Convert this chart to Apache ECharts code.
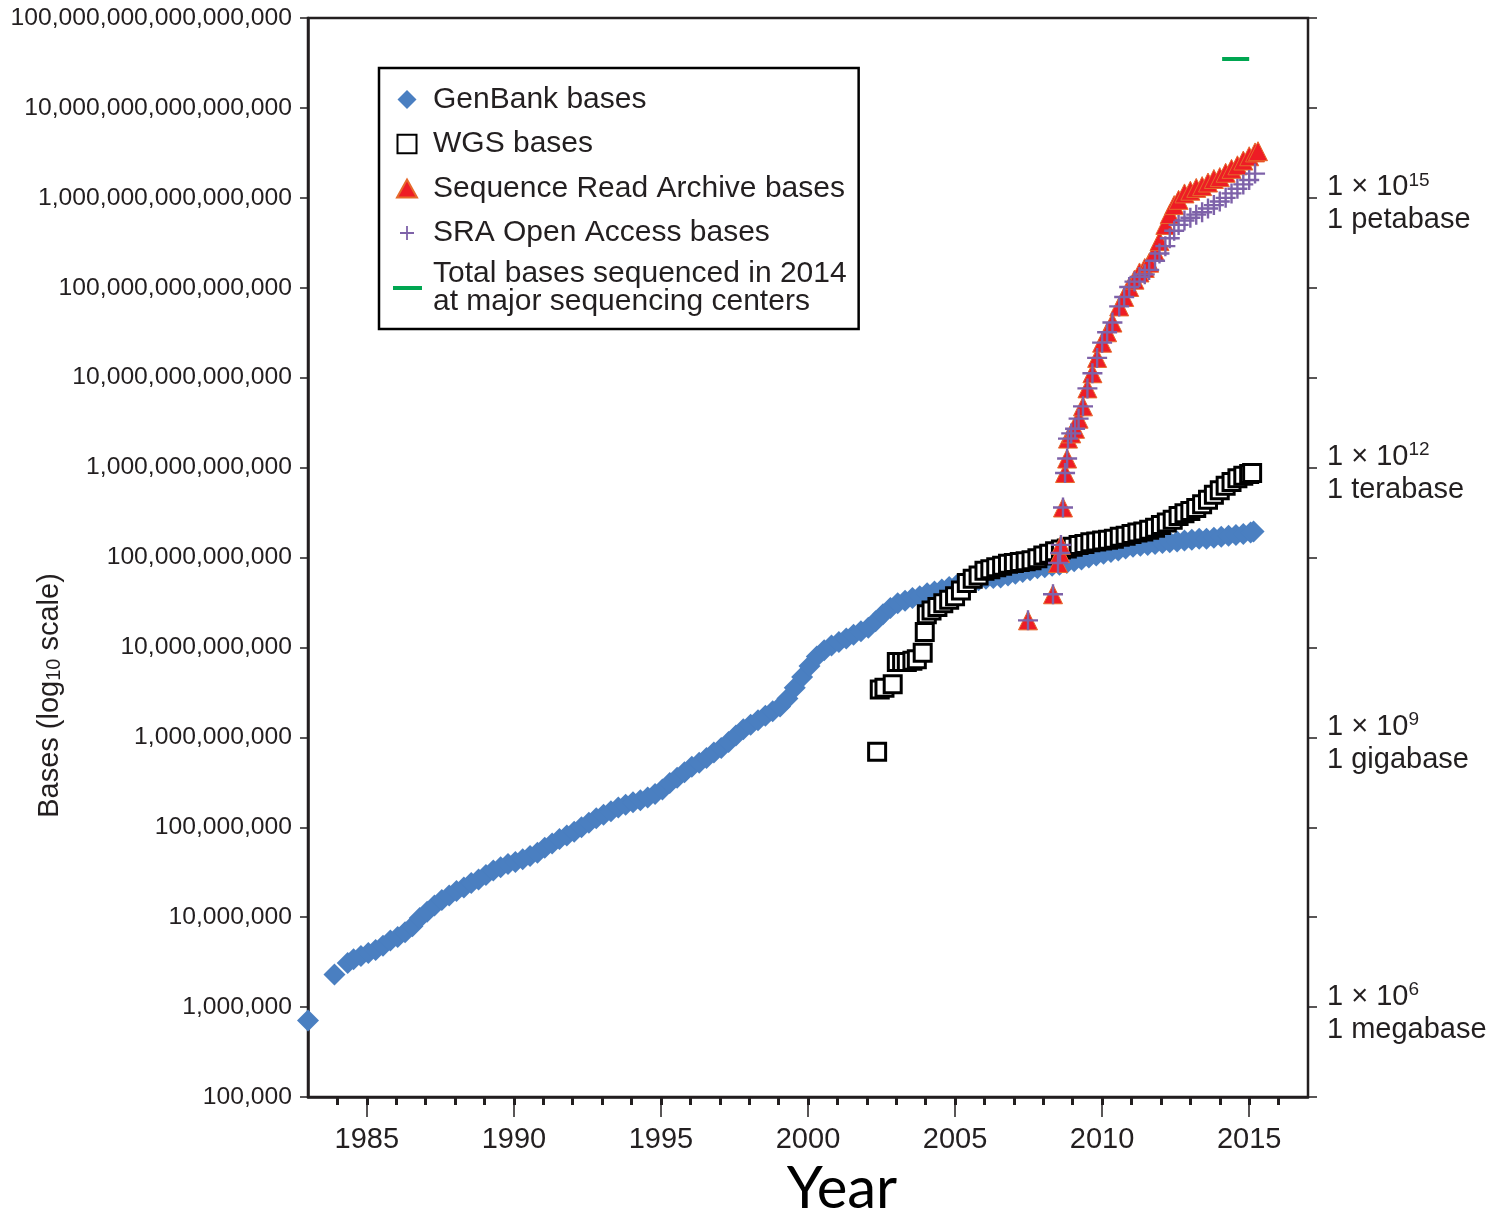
<!DOCTYPE html>
<html><head><meta charset="utf-8">
<script src="https://cdn.jsdelivr.net/npm/echarts@6.0.0/dist/echarts.min.js"></script>
<style>html,body{margin:0;padding:0;background:#fff}#c{width:1506px;height:1212px}</style>
</head><body><div id="c"></div>
<script>
// ---- data (year, bases) ----
const genbank = [
[1983.0,7.1e5],[1983.9,2.3e6],[1984.35,3.1e6],[1984.55,3.4e6],[1984.8,3.7e6],[1985.05,4.0e6],[1985.3,4.3e6],
[1985.55,4.8e6],[1985.8,5.5e6],[1986.05,6.0e6],[1986.3,6.8e6],[1986.55,7.9e6],[1986.8,9.8e6],[1987.05,1.15e7],
[1987.3,1.35e7],[1987.55,1.55e7],[1987.8,1.74e7],[1988.05,1.95e7],[1988.3,2.14e7],[1988.55,2.4e7],[1988.8,2.63e7],
[1989.05,2.95e7],[1989.3,3.3e7],[1989.55,3.6e7],[1989.8,3.9e7],[1990.05,4.1e7],[1990.3,4.4e7],[1990.55,4.8e7],
[1990.8,5.2e7],[1991.05,5.9e7],[1991.3,6.6e7],[1991.55,7.4e7],[1991.8,8.1e7],[1992.05,8.9e7],[1992.3,1.0e8],
[1992.55,1.12e8],[1992.8,1.26e8],[1993.05,1.38e8],[1993.3,1.51e8],[1993.55,1.66e8],[1993.8,1.78e8],[1994.05,1.9e8],
[1994.3,2.0e8],[1994.55,2.14e8],[1994.8,2.34e8],[1995.05,2.63e8],[1995.3,3.1e8],[1995.55,3.55e8],[1995.8,4.1e8],
[1996.05,4.7e8],[1996.3,5.2e8],[1996.55,5.9e8],[1996.8,6.8e8],[1997.05,7.6e8],[1997.3,8.9e8],[1997.55,1.05e9],
[1997.8,1.23e9],[1998.05,1.38e9],[1998.3,1.55e9],[1998.55,1.74e9],[1998.8,1.95e9],[1999.05,2.2e9],[1999.3,2.7e9],
[1999.55,3.55e9],[1999.8,4.7e9],[2000.05,6.2e9],[2000.3,7.9e9],[2000.55,9.3e9],[2000.8,1.05e10],[2001.05,1.15e10],
[2001.3,1.26e10],[2001.55,1.38e10],[2001.8,1.51e10],[2002.05,1.66e10],[2002.3,1.95e10],[2002.55,2.34e10],[2002.8,2.75e10],
[2003.05,3.1e10],[2003.3,3.3e10],[2003.55,3.55e10],[2003.8,3.7e10],[2004.05,4.0e10],[2004.3,4.2e10],[2004.55,4.4e10],
[2004.8,4.7e10],[2005.05,4.9e10],[2005.3,5.1e10],[2005.55,5.4e10],[2005.8,5.6e10],[2006.05,5.8e10],[2006.3,5.9e10],
[2006.55,6.0e10],[2006.8,6.3e10],[2007.05,6.6e10],[2007.3,6.9e10],[2007.55,7.2e10],[2007.8,7.6e10],[2008.05,7.8e10],
[2008.3,8.1e10],[2008.55,8.3e10],[2008.8,8.7e10],[2009.05,9.1e10],[2009.3,9.5e10],[2009.55,1.0e11],[2009.8,1.05e11],
[2010.05,1.1e11],[2010.3,1.15e11],[2010.55,1.2e11],[2010.8,1.26e11],[2011.05,1.32e11],[2011.3,1.35e11],[2011.55,1.38e11],
[2011.8,1.41e11],[2012.05,1.45e11],[2012.3,1.48e11],[2012.55,1.51e11],[2012.8,1.55e11],[2013.05,1.58e11],[2013.3,1.62e11],
[2013.55,1.62e11],[2013.8,1.66e11],[2014.05,1.7e11],[2014.3,1.74e11],[2014.55,1.78e11],[2014.8,1.82e11],[2015.05,1.9e11],
[2015.15,1.95e11]
];
const wgs = [
[2002.35,6.9e8],[2002.44,3.4e9],[2002.6,3.55e9],[2002.88,3.9e9],[2003.02,6.9e9],[2003.2,6.9e9],[2003.36,6.9e9],
[2003.55,7.1e9],[2003.7,7.4e9],[2003.9,8.7e9],[2003.97,1.48e10],[2004.04,2.34e10],[2004.2,2.57e10],[2004.4,2.82e10],
[2004.6,3.1e10],[2004.8,3.4e10],[2005.0,3.7e10],[2005.2,4.3e10],[2005.4,5.2e10],[2005.6,5.8e10],[2005.8,6.3e10],
[2006.0,7.1e10],[2006.2,7.4e10],[2006.4,7.8e10],[2006.6,8.1e10],[2006.8,8.5e10],[2007.0,8.7e10],[2007.2,8.9e10],
[2007.4,9.1e10],[2007.6,9.3e10],[2007.8,9.8e10],[2008.0,1.05e11],[2008.2,1.1e11],[2008.4,1.17e11],[2008.6,1.23e11],
[2008.8,1.26e11],[2009.0,1.32e11],[2009.2,1.38e11],[2009.4,1.41e11],[2009.6,1.48e11],[2009.8,1.51e11],[2010.0,1.55e11],
[2010.2,1.58e11],[2010.4,1.62e11],[2010.6,1.7e11],[2010.8,1.74e11],[2011.0,1.82e11],[2011.2,1.9e11],[2011.4,1.95e11],
[2011.6,2.04e11],[2011.8,2.14e11],[2012.0,2.3e11],[2012.2,2.45e11],[2012.4,2.63e11],[2012.6,2.9e11],[2012.8,3.1e11],
[2013.0,3.3e11],[2013.2,3.55e11],[2013.4,3.9e11],[2013.6,4.4e11],[2013.8,5.0e11],[2014.0,5.6e11],[2014.2,6.3e11],
[2014.4,6.9e11],[2014.6,7.6e11],[2014.8,8.1e11],[2015.0,8.5e11],[2015.1,8.7e11]
];
const sra = [
[2007.48,2.0e10],[2008.33,3.9e10],[2008.5,8.7e10],[2008.57,1.12e11],[2008.6,1.38e11],[2008.67,3.6e11],[2008.74,8.7e11],
[2008.81,1.26e12],[2008.84,2.1e12],[2008.95,2.4e12],[2009.08,2.7e12],[2009.2,3.5e12],[2009.35,4.8e12],[2009.5,7.6e12],
[2009.67,1.12e13],[2009.83,1.66e13],[2010.0,2.45e13],[2010.17,3.2e13],[2010.35,4.1e13],[2010.58,6.2e13],[2010.75,7.9e13],
[2010.92,1.02e14],[2011.1,1.23e14],[2011.27,1.48e14],[2011.45,1.66e14],[2011.6,1.9e14],[2011.8,2.5e14],[2011.95,3.3e14],
[2012.15,5.0e14],[2012.3,6.6e14],[2012.45,8.3e14],[2012.6,9.5e14],[2012.8,1.12e15],[2013.0,1.2e15],[2013.2,1.29e15],
[2013.4,1.35e15],[2013.6,1.48e15],[2013.8,1.62e15],[2014.0,1.7e15],[2014.2,1.9e15],[2014.4,2.1e15],[2014.6,2.3e15],
[2014.8,2.6e15],[2015.0,2.9e15],[2015.2,3.2e15],[2015.3,3.3e15]
];
const sraOpen = [
[2007.48,2.0e10],[2008.33,3.9e10],[2008.5,8.7e10],[2008.57,1.12e11],[2008.6,1.38e11],[2008.67,3.6e11],[2008.74,8.7e11],
[2008.81,1.26e12],[2008.84,2.1e12],[2008.95,2.4e12],[2009.08,2.7e12],[2009.2,3.5e12],[2009.35,4.8e12],[2009.5,7.6e12],
[2009.67,1.12e13],[2009.83,1.66e13],[2010.0,2.45e13],[2010.17,3.2e13],[2010.35,4.1e13],[2010.58,6.2e13],[2010.75,7.9e13],
[2010.92,1.02e14],[2011.1,1.17e14],[2011.27,1.32e14],[2011.45,1.41e14],[2011.6,1.58e14],[2011.8,2.0e14],[2011.95,2.4e14],
[2012.15,2.9e14],[2012.3,3.55e14],[2012.45,4.3e14],[2012.6,5.0e14],[2012.8,5.6e14],[2013.0,6.0e14],[2013.2,6.5e14],
[2013.4,6.9e14],[2013.6,7.6e14],[2013.8,8.3e14],[2014.0,9.1e14],[2014.2,1.0e15],[2014.4,1.12e15],[2014.6,1.26e15],
[2014.8,1.41e15],[2015.0,1.58e15],[2015.2,1.86e15]
];
const total2014 = [[2014.08,3.5e16],[2015.0,3.5e16]];

const seriesNames = ['GenBank bases','WGS bases','Sequence Read Archive bases','SRA Open Access bases',
  'Total bases sequenced in 2014\nat major sequencing centers'];
const yearRange = [1983, 2017];
const majorYearRange = [1985, 2015];
const baseRange = [1e5, 1e17];
const rightExps = [6, 9, 12, 15];
const rightNames = ['megabase', 'gigabase', 'terabase', 'petabase'];
const yTitle = ['Bases (log', '10', ' scale)'];
const xTitle = 'Year';

// ---- layout / style ----
const INK = '#231f20';
const FONT = '"Liberation Sans", Arial, Helvetica, sans-serif';
const G = { left: 308, top: 18, width: 1000, height: 1079 };
const pxPerYear = G.width / (yearRange[1] - yearRange[0]);
const g1Left = G.left + (majorYearRange[0] - yearRange[0]) * pxPerYear;
const g1Width = (majorYearRange[1] - majorYearRange[0]) * pxPerYear;

function commas(e) {
  return String(Math.pow(10, e)).replace(/\B(?=(\d{3})+(?!\d))/g, ',');
}
const plusPath = 'path://M4.4,0H5.6V4.4H10V5.6H5.6V10H4.4V5.6H0V4.4H4.4Z';
// legend icons drawn in a 32x20 box (corner moveTo points fix the box)
const LB = 'path://M0,0M32,20';
const legendIcons = [
  LB + 'M16,0.5L25.5,10L16,19.5L6.5,10Z',
  LB + 'M6.5,0.75H25.5V19.25H6.5Z',
  LB + 'M16,1L26,19H6Z',
  LB + 'M15.1,3H16.9V9.1H23V10.9H16.9V17H15.1V10.9H9V9.1H15.1Z',
  LB + 'M2,8H31V12H2Z'
];

const chart = echarts.init(document.getElementById('c'), null, { renderer: 'canvas' });
chart.setOption({
  animation: false,
  backgroundColor: '#ffffff',
  grid: [
    { left: G.left, top: G.top, width: G.width, height: G.height, show: true,
      borderColor: INK, borderWidth: 2.5, backgroundColor: 'transparent',
      containLabel: false, outerBoundsMode: 'none' },
    { left: g1Left, top: G.top, width: g1Width, height: G.height, show: false,
      containLabel: false, outerBoundsMode: 'none' }
  ],
  xAxis: [
    { type: 'value', gridIndex: 0, min: yearRange[0], max: yearRange[1], interval: 1,
      name: xTitle, nameLocation: 'middle', nameGap: 63, nameMoveOverlap: false,
      nameTextStyle: { fontFamily: 'Lato, "Open Sans", sans-serif', fontSize: 58, color: '#000', padding: [0, 0, 0, 68] },
      axisLine: { show: true, onZero: false, lineStyle: { color: INK, width: 2.5 } },
      axisTick: { show: true, inside: false, length: 8, lineStyle: { color: INK, width: 3 } },
      axisLabel: { show: true, margin: 28, color: INK, fontFamily: FONT, fontSize: 29, hideOverlap: false,
        showMinLabel: false, showMaxLabel: false,
        formatter: v => (Math.round(v) % 5 === 0 ? String(Math.round(v)) : '') },
      splitLine: { show: false } },
    { type: 'value', gridIndex: 1, min: majorYearRange[0], max: majorYearRange[1], interval: 5,
      axisLine: { show: false }, axisLabel: { show: false }, splitLine: { show: false },
      axisTick: { show: true, inside: false, length: 20, lineStyle: { color: INK, width: 1.5 } } }
  ],
  yAxis: [
    { type: 'log', logBase: 10, gridIndex: 0, min: baseRange[0], max: baseRange[1], splitNumber: 12, interval: 1,
      name: '{a|' + yTitle[0] + '}{b|' + yTitle[1] + '}{a|' + yTitle[2] + '}',
      nameLocation: 'middle', nameRotate: 90, nameGap: 244, nameMoveOverlap: false,
      nameTextStyle: { color: INK, padding: [0, 276, 0, 0],
        rich: { a: { fontFamily: FONT, fontSize: 29, color: INK },
                b: { fontFamily: FONT, fontSize: 20, color: INK, verticalAlign: 'bottom' } } },
      axisLine: { show: true, onZero: false, lineStyle: { color: INK, width: 2.5 } },
      axisTick: { show: true, inside: false, length: 8, lineStyle: { color: INK, width: 1.5 } },
      axisLabel: { margin: 16, color: INK, fontFamily: FONT, fontSize: 24.7, hideOverlap: false,
        showMinLabel: true, showMaxLabel: true,
        formatter: v => commas(Math.round(Math.log10(v))) },
      splitLine: { show: false } },
    { type: 'log', logBase: 10, gridIndex: 0, position: 'right', min: baseRange[0], max: baseRange[1],
      splitNumber: 12, interval: 1,
      axisLine: { show: false },
      axisTick: { show: true, inside: false, length: 9, lineStyle: { color: INK, width: 1.5 } },
      axisLabel: { margin: 19, color: INK, fontFamily: FONT, fontSize: 29, align: 'left', lineHeight: 33,
        hideOverlap: false, padding: [12, 0, 0, 0],
        formatter: v => {
          const e = Math.round(Math.log10(v));
          const i = rightExps.indexOf(e);
          return i < 0 ? '' : '{a|1 × 10}{s|' + e + '}\n{a|1 ' + rightNames[i] + '}';
        },
        rich: { a: { fontFamily: FONT, fontSize: 29, color: INK, lineHeight: 33 },
                s: { fontFamily: FONT, fontSize: 19, color: INK, verticalAlign: 'top', lineHeight: 20 } } },
      splitLine: { show: false } },
    { type: 'value', gridIndex: 1, show: false, min: 0, max: 1 }
  ],
  legend: {
    show: true, orient: 'vertical', left: 379, top: 68,
    padding: [13, 12, 12, 11], itemGap: 7.5, itemWidth: 32, itemHeight: 20,
    borderColor: '#000', borderWidth: 2.5, borderRadius: 0, backgroundColor: '#fff',
    textStyle: { fontFamily: FONT, fontSize: 30, color: INK, lineHeight: 37, padding: [0, 0, 0, 5] },
    data: seriesNames.map((n, i) => (i === 4
      ? { name: n, icon: legendIcons[i], textStyle: { lineHeight: 28 } }
      : { name: n, icon: legendIcons[i] }))
  },
  series: [
    { name: seriesNames[0], type: 'scatter', xAxisIndex: 0, yAxisIndex: 0, data: genbank,
      symbol: 'diamond', symbolSize: 22, itemStyle: { color: '#4a7fc1', opacity: 1 } },
    { name: seriesNames[1], type: 'scatter', xAxisIndex: 0, yAxisIndex: 0, data: wgs,
      symbol: 'rect', symbolSize: 17, itemStyle: { color: '#ffffff', borderColor: '#000', borderWidth: 3, opacity: 1 } },
    { name: seriesNames[2], type: 'scatter', xAxisIndex: 0, yAxisIndex: 0, data: sra,
      symbol: 'triangle', symbolSize: 19, itemStyle: { color: '#ee1c25', borderColor: '#e66a2c', borderWidth: 1, opacity: 1 } },
    { name: seriesNames[3], type: 'scatter', xAxisIndex: 0, yAxisIndex: 0, data: sraOpen,
      symbol: plusPath, symbolSize: 20, itemStyle: { color: '#7e62a9', opacity: 1 } },
    { name: seriesNames[4], type: 'line', xAxisIndex: 0, yAxisIndex: 0, data: total2014,
      symbol: 'none', showSymbol: false, lineStyle: { color: '#00a651', width: 4 }, itemStyle: { color: '#00a651' } }
  ]
});
</script></body></html>
